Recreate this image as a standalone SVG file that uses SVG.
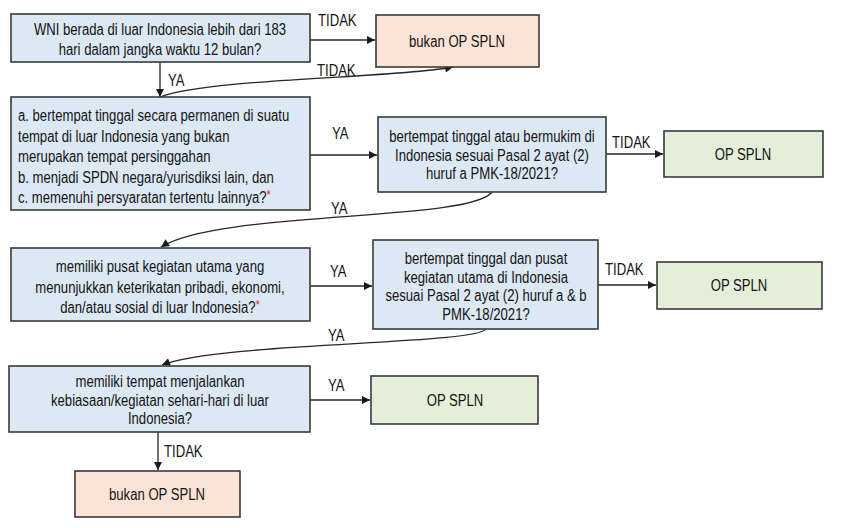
<svg xmlns="http://www.w3.org/2000/svg" width="847" height="528" viewBox="0 0 847 528">
<style>
.q{fill:#dde8f5;stroke:#3a3a3a;stroke-width:1.6}
.no{fill:#fbe4d5;stroke:#3a3a3a;stroke-width:1.6}
.ok{fill:#e3efd9;stroke:#3a3a3a;stroke-width:1.6}
text{font-family:"Liberation Sans",Arial,sans-serif;font-size:16px;fill:#141414}
.c{text-anchor:middle}
.ast{fill:#e02020;font-size:13px}
.ln{fill:none;stroke:#262626;stroke-width:1.3}
</style>
<defs>
<marker id="ah" viewBox="0 0 10 10" refX="10" refY="5" markerWidth="9" markerHeight="8" markerUnits="userSpaceOnUse" orient="auto">
<path d="M0,0 L10,5 L0,10 z" fill="#1a1a1a"/>
</marker>
</defs>
<rect width="847" height="528" fill="#ffffff"/>

<g id="connectors">
<line class="ln" x1="310" y1="40" x2="375" y2="40" marker-end="url(#ah)"/>
<line class="ln" x1="160" y1="62" x2="160" y2="97" marker-end="url(#ah)"/>
<path class="ln" d="M160,97 C210,78 400,78 453,67" marker-end="url(#ah)"/>
<line class="ln" x1="310" y1="155" x2="377" y2="155" marker-end="url(#ah)"/>
<line class="ln" x1="606" y1="154" x2="663" y2="154" marker-end="url(#ah)"/>
<path class="ln" d="M492,192 C470,222 220,210 161,247" marker-end="url(#ah)"/>
<line class="ln" x1="310" y1="286" x2="372" y2="286" marker-end="url(#ah)"/>
<line class="ln" x1="598" y1="285" x2="656" y2="285" marker-end="url(#ah)"/>
<path class="ln" d="M486,329 C475,345 220,342 162,365" marker-end="url(#ah)"/>
<line class="ln" x1="310" y1="400" x2="370" y2="400" marker-end="url(#ah)"/>
<line class="ln" x1="158" y1="432" x2="158" y2="470" marker-end="url(#ah)"/>
<g id="labels">
<text transform="translate(318,26) scale(0.82,1)">TIDAK</text>
<text transform="translate(168,86) scale(0.82,1)">YA</text>
<text transform="translate(317,76) scale(0.82,1)">TIDAK</text>
<text transform="translate(332,139) scale(0.82,1)">YA</text>
<text transform="translate(612,148) scale(0.82,1)">TIDAK</text>
<text transform="translate(331,214) scale(0.82,1)">YA</text>
<text transform="translate(330,277) scale(0.82,1)">YA</text>
<text transform="translate(605,275) scale(0.82,1)">TIDAK</text>
<text transform="translate(328,341) scale(0.82,1)">YA</text>
<text transform="translate(328,391) scale(0.82,1)">YA</text>
<text transform="translate(164,457) scale(0.82,1)">TIDAK</text>
</g>
</g>

<g id="q1">
<rect class="q" x="11" y="14" width="299" height="48"/>
<text class="c" transform="translate(160,35) scale(0.82,1)">WNI berada di luar Indonesia lebih dari 183</text>
<text class="c" transform="translate(160,55) scale(0.82,1)">hari dalam jangka waktu 12 bulan?</text>
</g>

<g id="bukan1">
<rect class="no" x="376" y="15" width="163" height="52"/>
<text class="c" transform="translate(457,47) scale(0.82,1)">bukan OP SPLN</text>
</g>

<g id="q2">
<rect class="q" x="11" y="97" width="299" height="113"/>
<text transform="translate(18,121) scale(0.82,1)">a. bertempat tinggal secara permanen di suatu</text>
<text transform="translate(18,141.5) scale(0.82,1)">tempat di luar Indonesia yang bukan</text>
<text transform="translate(18,162) scale(0.82,1)">merupakan tempat persinggahan</text>
<text transform="translate(18,182.5) scale(0.82,1)">b. menjadi SPDN negara/yurisdiksi lain, dan</text>
<text transform="translate(18,203) scale(0.82,1)">c. memenuhi persyaratan tertentu lainnya?<tspan class="ast" dy="-4">*</tspan></text>
</g>

<g id="q3">
<rect class="q" x="378" y="117" width="228" height="75"/>
<text class="c" transform="translate(492,142) scale(0.82,1)">bertempat tinggal atau bermukim di</text>
<text class="c" transform="translate(492,160.5) scale(0.82,1)">Indonesia sesuai Pasal 2 ayat (2)</text>
<text class="c" transform="translate(492,179) scale(0.82,1)">huruf a PMK-18/2021?</text>
</g>

<g id="op1">
<rect class="ok" x="664" y="131" width="159" height="46"/>
<text class="c" transform="translate(743,160) scale(0.82,1)">OP SPLN</text>
</g>

<g id="q4">
<rect class="q" x="11" y="248" width="299" height="73"/>
<text class="c" transform="translate(160,272) scale(0.82,1)">memiliki pusat kegiatan utama yang</text>
<text class="c" transform="translate(160,292.5) scale(0.82,1)">menunjukkan keterikatan pribadi, ekonomi,</text>
<text class="c" transform="translate(160,313) scale(0.82,1)">dan/atau sosial di luar Indonesia?<tspan class="ast" dy="-4">*</tspan></text>
</g>

<g id="q5">
<rect class="q" x="373" y="240" width="225" height="89"/>
<text class="c" transform="translate(486,264) scale(0.82,1)">bertempat tinggal dan pusat</text>
<text class="c" transform="translate(486,282.5) scale(0.82,1)">kegiatan utama di Indonesia</text>
<text class="c" transform="translate(486,301) scale(0.82,1)">sesuai Pasal 2 ayat (2) huruf a &amp; b</text>
<text class="c" transform="translate(486,319.5) scale(0.82,1)">PMK-18/2021?</text>
</g>

<g id="op2">
<rect class="ok" x="657" y="262" width="165" height="47"/>
<text class="c" transform="translate(739,291) scale(0.82,1)">OP SPLN</text>
</g>

<g id="q6">
<rect class="q" x="9" y="366" width="301" height="66"/>
<text class="c" transform="translate(160,387) scale(0.82,1)">memiliki tempat menjalankan</text>
<text class="c" transform="translate(160,405.5) scale(0.82,1)">kebiasaan/kegiatan sehari-hari di luar</text>
<text class="c" transform="translate(160,424) scale(0.82,1)">Indonesia?</text>
</g>

<g id="op3">
<rect class="ok" x="371" y="376" width="167" height="48"/>
<text class="c" transform="translate(455,406) scale(0.82,1)">OP SPLN</text>
</g>

<g id="bukan2">
<rect class="no" x="75" y="471" width="165" height="46"/>
<text class="c" transform="translate(157,500) scale(0.82,1)">bukan OP SPLN</text>
</g>
</svg>
